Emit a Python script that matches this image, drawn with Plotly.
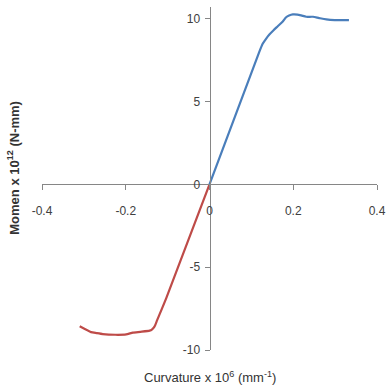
import plotly.graph_objects as go

pos_curv = [0.0, 0.118, 0.127, 0.135, 0.143, 0.153, 0.163, 0.175, 0.183, 0.19, 0.199, 0.21, 0.219, 0.231, 0.247, 0.262, 0.279, 0.299, 0.315, 0.333]
pos_mom = [0.0, 7.95, 8.5, 8.8, 9.06, 9.32, 9.56, 9.85, 10.1, 10.2, 10.27, 10.26, 10.21, 10.13, 10.13, 10.05, 9.97, 9.93, 9.93, 9.93]

neg_curv = [0.0, -0.103, -0.125, -0.131, -0.137, -0.143, -0.165, -0.183, -0.199, -0.225, -0.255, -0.27, -0.283, -0.31]
neg_mom = [0.0, -6.85, -8.2, -8.57, -8.75, -8.83, -8.9, -8.95, -9.06, -9.08, -9.04, -8.98, -8.92, -8.57]

x_ticks = [-0.4, -0.2, 0, 0.2, 0.4]
x_labels = ["-0.4", "-0.2", "0", "0.2", "0.4"]
y_ticks = [-10, -5, 0, 5, 10]
y_labels = ["-10", "-5", "0", "5", "10"]

x_range = [-0.4, 0.4]
y_range = [-10, 10.72]

fig = go.Figure()
fig.add_trace(go.Scatter(x=pos_curv, y=pos_mom, mode="lines",
                         line=dict(color="#4A7EBB", width=2.2, shape="spline", smoothing=0.7),
                         showlegend=False))
fig.add_trace(go.Scatter(x=neg_curv, y=neg_mom, mode="lines",
                         line=dict(color="#BE4B48", width=2.2, shape="spline", smoothing=0.5),
                         showlegend=False))

tickfont = dict(family="Liberation Sans, Arial, sans-serif", size=12, color="#404040")

fig.update_layout(
    width=387, height=387,
    margin=dict(l=42, r=10, t=7, b=37),
    paper_bgcolor="white", plot_bgcolor="white",
    xaxis=dict(range=x_range, tickvals=x_ticks, ticktext=x_labels, automargin=False,
               showgrid=False, zeroline=False, showline=True, linecolor="#868686", linewidth=1,
               ticks="outside", ticklen=5, tickcolor="#868686", tickfont=tickfont,
               anchor="free", position=(0 - y_range[0]) / (y_range[1] - y_range[0]),
               ticklabelstandoff=10),
    yaxis=dict(range=y_range, tickvals=y_ticks, ticktext=y_labels, automargin=False,
               showgrid=False, zeroline=False, showline=True, linecolor="#868686", linewidth=1,
               ticks="outside", ticklen=5, tickcolor="#868686", tickfont=tickfont,
               anchor="free", position=0.5, ticklabelstandoff=2),
    annotations=[
        dict(text="Curvature x 10<sup>6</sup> (mm<sup>-1</sup>)", xref="paper", yref="paper",
             x=0.5, y=-0.08, xanchor="center", yanchor="middle", showarrow=False,
             font=dict(family="Liberation Sans, Arial, sans-serif", size=13, color="#333333")),
        dict(text="<b>Momen x 10<sup>12</sup> (N-mm)</b>", xref="paper", yref="paper",
             x=-0.085, y=0.53, xanchor="center", yanchor="middle", showarrow=False, textangle=-90,
             font=dict(family="Liberation Sans, Arial, sans-serif", size=13, color="#333333")),
    ],
)

fig.write_html("out.html")
